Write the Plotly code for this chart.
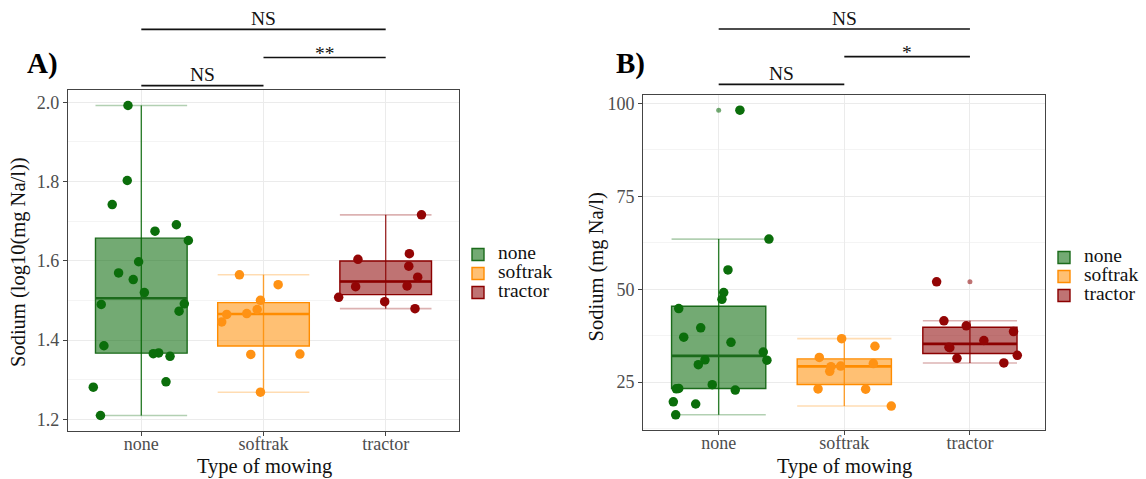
import numpy as np
import plotly.graph_objects as go

SERIF = "Liberation Serif, Times New Roman, serif"

categories = ["none", "softrak", "tractor"]
positions = [1, 2, 3]

# Sodium concentration (mg Na/l)
na_none = [98.2, 63.5, 55.2, 49.1, 47.3, 44.8, 39.6, 37.1, 35.7, 33.1,
           31.0, 30.9, 29.7, 24.3, 23.3, 23.2, 22.85, 19.7, 19.1, 16.2]
na_softrak = [36.7, 34.65, 31.65, 30.0, 29.3, 29.15, 27.9, 23.15, 23.1, 18.55]
na_tractor = [52.0, 41.5, 40.15, 38.6, 36.2, 34.4, 34.25, 32.2, 31.4, 30.15]

# horizontal jitter of each point (in category units), panel A and panel B
jit_a_none = [-0.109, -0.115, -0.238, 0.287, 0.112, 0.385, -0.022, -0.186, -0.066, 0.025,
              0.352, -0.328, 0.309, -0.306, 0.142, 0.098, 0.235, 0.202, -0.393, -0.334]
jit_b_none = [0.169, 0.400, 0.074, 0.040, 0.026, -0.318, -0.143, -0.278, 0.098, 0.355,
              -0.109, 0.384, -0.162, -0.051, -0.318, -0.337, 0.132, -0.361, -0.183, -0.342]
jit_a_softrak = [-0.197, 0.120, -0.025, -0.052, -0.137, -0.301, -0.342, 0.298, -0.104, -0.025]
jit_b_softrak = [-0.021, 0.244, -0.199, 0.231, -0.029, -0.106, -0.116, -0.209, 0.170, 0.374]
jit_a_tractor = [0.293, 0.194, -0.227, 0.189, 0.262, 0.175, -0.246, -0.385, -0.008, 0.240]
jit_b_tractor = [-0.265, -0.207, -0.029, 0.347, 0.111, -0.167, -0.160, 0.377, -0.103, 0.270]

# significance brackets: pairs of categories, their level and labels
comp_pairs = [(1, 2), (2, 3), (1, 3)]
comp_levels = [1, 2, 3]
labels_a = ["NS", "**", "NS"]
labels_b = ["NS", "*", "NS"]

point_colors = ["#0b6e0b", "#ff9214", "#930505"]
line_colors = ["#1b6b1b", "#ff8c00", "#8b0000"]
base_rgb = [(0, 100, 0), (255, 140, 0), (139, 0, 0)]

BOXW = 0.75
W, H = 1146, 479


def rgba(rgb, a):
    return "rgba(%d,%d,%d,%.2f)" % (rgb[0], rgb[1], rgb[2], a)


def px_x(p):
    return p / W


def px_y(p):
    return 1 - p / H


def stats(v):
    """R type-7 quartiles and 1.5*IQR whiskers, as ggplot's stat_boxplot."""
    v = np.asarray(v, dtype=float)
    q1, med, q3 = np.percentile(v, [25, 50, 75])
    iqr = q3 - q1
    lo = v[v >= q1 - 1.5 * iqr].min()
    hi = v[v <= q3 + 1.5 * iqr].max()
    out = v[(v < lo) | (v > hi)]
    return q1, med, q3, lo, hi, out


fig = go.Figure()

panels = [
    dict(xa="x", ya="y", xb="x3", yb="y3", legend="legend",
         groups=[np.log10(na_none), np.log10(na_softrak), np.log10(na_tractor)],
         jits=[jit_a_none, jit_a_softrak, jit_a_tractor], labels=labels_a),
    dict(xa="x2", ya="y2", xb="x4", yb="y4", legend="legend2",
         groups=[np.array(na_none), np.array(na_softrak), np.array(na_tractor)],
         jits=[jit_b_none, jit_b_softrak, jit_b_tractor], labels=labels_b),
]

for pan in panels:
    for k, cat, vals, jit, pc, lc, rgb in zip(positions, categories, pan["groups"], pan["jits"],
                                              point_colors, line_colors, base_rgb):
        q1, med, q3, lo, hi, out = stats(vals)
        # error bar (vertical line + light caps)
        fig.add_trace(go.Scatter(
            x=[k, k], y=[lo, hi], mode="lines", line=dict(color=rgba(rgb, 0.8), width=1.4),
            xaxis=pan["xa"], yaxis=pan["ya"], showlegend=False, hoverinfo="skip"))
        fig.add_trace(go.Scatter(
            x=[k - BOXW / 2, k + BOXW / 2, None, k - BOXW / 2, k + BOXW / 2],
            y=[lo, lo, None, hi, hi], mode="lines", line=dict(color=rgba(rgb, 0.3), width=1.6),
            xaxis=pan["xa"], yaxis=pan["ya"], showlegend=False, hoverinfo="skip"))
        # box from the computed statistics
        fig.add_trace(go.Box(
            x=[k], q1=[q1], median=[med], q3=[q3], lowerfence=[q1], upperfence=[q3],
            name='<span style="font-size:19.5px">%s</span>' % cat,
            width=BOXW, whiskerwidth=0,
            line=dict(color=lc, width=1.4), fillcolor=rgba(rgb, 0.55),
            xaxis=pan["xa"], yaxis=pan["ya"], legend=pan["legend"], showlegend=True,
            hoverinfo="skip"))
        # thicker median
        fig.add_trace(go.Scatter(
            x=[k - BOXW / 2, k + BOXW / 2], y=[med, med], mode="lines",
            line=dict(color=lc, width=2.6),
            xaxis=pan["xa"], yaxis=pan["ya"], showlegend=False, hoverinfo="skip"))
        # boxplot outliers (small dots on the box axis)
        if len(out):
            fig.add_trace(go.Scatter(
                x=[k] * len(out), y=out, mode="markers",
                marker=dict(color=rgba(rgb, 0.55), size=5, line=dict(width=0)),
                xaxis=pan["xa"], yaxis=pan["ya"], showlegend=False, hoverinfo="skip"))
        # jittered points
        fig.add_trace(go.Scatter(
            x=k + np.asarray(jit), y=vals, mode="markers",
            marker=dict(color=pc, size=9.5, line=dict(width=0)),
            xaxis=pan["xa"], yaxis=pan["ya"], showlegend=False, hoverinfo="skip"))

    # significance brackets
    for (a, b), lev, lab in zip(comp_pairs, comp_levels, pan["labels"]):
        fig.add_trace(go.Scatter(
            x=[a, b], y=[lev, lev], mode="lines", line=dict(color="#111111", width=1.7),
            xaxis=pan["xb"], yaxis=pan["yb"], showlegend=False, hoverinfo="skip"))
        fig.add_annotation(
            x=(a + b) / 2, y=lev, xref=pan["xb"], yref=pan["yb"], text=lab, showarrow=False,
            yanchor="bottom", yshift=(-8 if "*" in lab else -1.5),
            font=dict(family=SERIF, size=19.5, color="#111111"))


def yrange(groups):
    allv = np.concatenate(groups)
    lo, hi = allv.min(), allv.max()
    span = hi - lo
    return [lo - 0.05 * span, hi + 0.05 * span]


axis_common = dict(
    showline=True, mirror=True, linecolor="#444444", linewidth=1.3,
    ticks="outside", ticklen=4, tickcolor="#444444", tickwidth=1,
    tickfont=dict(family=SERIF, size=18, color="#4D4D4D"),
    showgrid=True, gridcolor="#EBEBEB", gridwidth=1.1, zeroline=False,
)

xa_dom = [px_x(68), px_x(459)]
ya_dom = [px_y(431), px_y(90)]
xb_dom = [px_x(643.3), px_x(1045.3)]
yb_dom = [px_y(430), px_y(95)]

legend_common = dict(xanchor="left", yanchor="top", bgcolor="rgba(0,0,0,0)",
                     font=dict(family=SERIF, size=10.5, color="#111111"), tracegroupgap=0)

fig.update_layout(
    width=W, height=479, margin=dict(l=0, r=0, t=0, b=0),
    paper_bgcolor="white", plot_bgcolor="white",
    font=dict(family=SERIF, color="#111111"),
    boxmode="overlay",
    xaxis=dict(axis_common, domain=xa_dom, range=[0.4, 3.6], tickvals=positions,
               ticktext=categories, anchor="y", ticklabelstandoff=-8),
    yaxis=dict(axis_common, domain=ya_dom, range=yrange(panels[0]["groups"]),
               tick0=0, dtick=0.2, tickformat=".1f", anchor="x",
               minor=dict(dtick=0.1, showgrid=True, gridcolor="#F4F4F4", gridwidth=1)),
    xaxis2=dict(axis_common, domain=xb_dom, range=[0.4, 3.6], tickvals=positions,
                ticktext=categories, anchor="y2", ticklabelstandoff=-8),
    yaxis2=dict(axis_common, domain=yb_dom, range=yrange(panels[1]["groups"]),
                tick0=0, dtick=25, anchor="x2",
                minor=dict(dtick=12.5, showgrid=True, gridcolor="#F4F4F4", gridwidth=1)),
    xaxis3=dict(domain=xa_dom, range=[0.4, 3.6], visible=False, anchor="y3"),
    yaxis3=dict(domain=[px_y(90), 1], range=[0.8475, 4.039], visible=False, anchor="x3"),
    xaxis4=dict(domain=xb_dom, range=[0.4, 3.6], visible=False, anchor="y4"),
    yaxis4=dict(domain=[px_y(95), 1], range=[0.613, 4.049], visible=False, anchor="x4"),
    legend=dict(legend_common, x=px_x(458), y=px_y(240)),
    legend2=dict(legend_common, x=px_x(1044), y=px_y(243)),
)

title_font = dict(family=SERIF, size=20.5, color="#111111")
ann = [
    dict(x=px_x(18.3), y=px_y(261.7), text="Sodium (log10(mg Na/l))", textangle=-90),
    dict(x=px_x(596.7), y=px_y(266.7), text="Sodium (mg Na/l)", textangle=-90),
    dict(x=px_x(264.5), y=px_y(466), text="Type of mowing"),
    dict(x=px_x(844.3), y=px_y(466), text="Type of mowing"),
]
for a in ann:
    fig.add_annotation(xref="paper", yref="paper", showarrow=False, xanchor="center",
                       yanchor="middle", font=title_font, **a)

for txt, xc in [("A)", 42), ("B)", 630)]:
    fig.add_annotation(xref="paper", yref="paper", x=px_x(xc), y=px_y(63.5), text="<b>%s</b>" % txt,
                       showarrow=False, xanchor="center", yanchor="middle",
                       font=dict(family=SERIF, size=29, color="#000000"))

fig.write_html("out.html")
